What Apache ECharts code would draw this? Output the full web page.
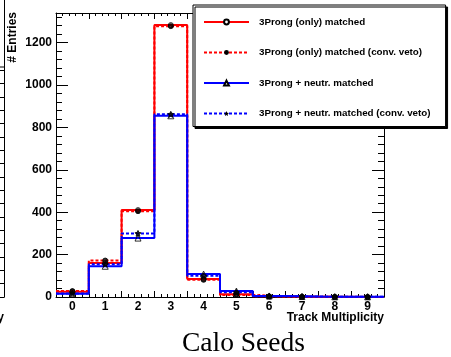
<!DOCTYPE html>
<html>
<head>
<meta charset="utf-8">
<script src="https://cdn.jsdelivr.net/npm/echarts@6/dist/echarts.min.js"></script>
<style>
  html, body { margin: 0; padding: 0; background: #ffffff; }
  #chart { width: 451px; height: 357px; }
</style>
</head>
<body>
<div id="chart"></div>
<script>
// Track multiplicity bins (bin centres)
const multiplicity = [0, 1, 2, 3, 4, 5, 6, 7, 8, 9];

// Entries per bin for each selection
const prongOnly        = [25, 160, 410, 1283, 85, 13, 3, 1, 1, 0];
const prongOnlyVeto    = [28, 172, 405, 1278, 81, 10, 2, 1, 0, 0];
const prongNeutr       = [15, 145, 278, 855, 108, 28, 5, 2, 1, 1];
const prongNeutrVeto   = [17, 155, 300, 862, 100, 22, 4, 2, 1, 1];

const seriesNames = [
  '3Prong (only) matched',
  '3Prong (only) matched (conv. veto)',
  '3Prong + neutr. matched',
  '3Prong + neutr. matched (conv. veto)'
];

// y axis labelled ticks
const yTickLabels = [0, 200, 400, 600, 800, 1000, 1200];

const Y_MAX = 1340;
const X_MIN = multiplicity[0] - 0.5;
const X_MAX = multiplicity[multiplicity.length - 1] + 0.5;

// histogram outline: one point per lower bin edge, closed at the last upper edge
function stepData(values) {
  const pts = values.map((v, i) => [multiplicity[i] - 0.5, v]);
  pts.push([multiplicity[values.length - 1] + 0.5, values[values.length - 1]]);
  return pts;
}
function markerData(values) {
  return values.map((v, i) => [multiplicity[i], v]);
}

// y minor ticks every 40 entries, skipping labelled ones
const yMinor = [];
for (let v = 40; v < Y_MAX; v += 40) { if (v % 200 !== 0) yMinor.push(v); }

const STAR = 'path://M0,-10 L2.94,-4.05 9.51,-3.09 4.76,1.55 5.88,8.09 0,5 -5.88,8.09 -4.76,1.55 -9.51,-3.09 -2.94,-4.05 Z';

const styles = [
  { color: '#ff0000', type: 'solid',  symbol: 'emptyCircle',   scatterSymbol: 'circle',   size: 5, fill: 'rgba(0,0,0,0)' },
  { color: '#ff0000', type: [3, 2],   symbol: 'circle',        scatterSymbol: 'circle',   size: 5, fill: '#000000' },
  { color: '#0000ff', type: 'solid',  symbol: 'emptyTriangle', scatterSymbol: 'triangle', size: 6, fill: 'rgba(0,0,0,0)' },
  { color: '#0000ff', type: [3, 2],   symbol: STAR,            scatterSymbol: STAR,       size: 6, fill: '#000000' }
];
const allValues = [prongOnly, prongOnlyVeto, prongNeutr, prongNeutrVeto];

const axisFont = { color: '#000', fontFamily: 'Liberation Sans', fontWeight: 'bold', fontSize: 12 };
const black = { color: '#000', width: 1 };

const series = [];
allValues.forEach((vals, i) => {
  const s = styles[i];
  series.push({
    name: seriesNames[i],
    type: 'line',
    step: 'end',
    xAxisIndex: 0,
    yAxisIndex: 0,
    data: stepData(vals),
    symbol: s.symbol,
    showSymbol: false,
    silent: true,
    animation: false,
    z: 2 + i,
    lineStyle: { color: s.color, width: 2, type: s.type },
    itemStyle: { color: s.color }
  });
});
allValues.forEach((vals, i) => {
  const s = styles[i];
  series.push({
    name: 'markers ' + i,
    type: 'scatter',
    xAxisIndex: 0,
    yAxisIndex: 0,
    data: markerData(vals),
    symbol: s.scatterSymbol,
    symbolSize: s.size,
    silent: true,
    animation: false,
    z: 10,
    itemStyle: { color: s.fill, borderColor: '#000', borderWidth: 1 }
  });
});

const nameStyle = { ...axisFont, align: 'right', verticalAlign: 'top', padding: [15, 0, 0, 0] };

// plot frame geometry, shared by the main grid and its minor-tick overlay
const frame = { left: 56, top: 13, right: 67, bottom: 60, outerBoundsMode: 'none' };

function hiddenX(gridIndex) {
  return {
    gridIndex, type: 'value', min: X_MIN, max: X_MAX, show: false
  };
}

const chart = echarts.init(document.getElementById('chart'), null, { renderer: 'canvas' });
chart.setOption({
  animation: false,
  backgroundColor: '#ffffff',
  title: {
    text: 'Calo Seeds',
    left: 182,
    top: 330,
    padding: 0,
    textStyle: { fontFamily: 'Liberation Serif', fontWeight: 'normal', fontSize: 27.5, color: '#000' }
  },
  grid: [
    { ...frame },
    { left: -330, top: 13, width: 334, bottom: 60, outerBoundsMode: 'none' },
    { ...frame }
  ],
  legend: {
    orient: 'vertical',
    left: 193,
    top: 5,
    padding: [11, 15, 7, 10],
    itemWidth: 45,
    itemHeight: 6,
    itemGap: 18.5,
    backgroundColor: '#ffffff',
    borderColor: '#000',
    borderWidth: 1,
    borderRadius: 0,
    shadowColor: '#000',
    shadowBlur: 0,
    shadowOffsetX: 2,
    shadowOffsetY: 2,
    selectedMode: false,
    textStyle: { fontFamily: 'Liberation Sans', fontWeight: 'bold', fontSize: 9.8, color: '#000', lineHeight: 12, padding: [0, 0, 0, 5] },
    data: seriesNames.map((n) => ({
      name: n,
      itemStyle: { color: '#000', borderColor: '#000', borderWidth: 0 }
    }))
  },
  graphic: [
    {
      type: 'text',
      x: 13,
      y: 12,
      rotation: Math.PI / 2,
      style: { text: '# Entries', align: 'right', verticalAlign: 'middle', fill: '#000', font: 'bold 12px "Liberation Sans"' }
    },
    {
      type: 'rect',
      shape: { x: -100, y: -10, width: 104.5, height: 77 },
      style: { fill: '#fff', stroke: '#000', lineWidth: 1 },
      z: 100
    }
  ],
  xAxis: [
    {
      gridIndex: 0, type: 'value', position: 'bottom',
      min: X_MIN, max: X_MAX, interval: 1,
      axisLine: { show: true, onZero: false, lineStyle: black },
      axisTick: { show: true, inside: true, length: 6, lineStyle: black },
      minorTick: { show: true, splitNumber: 5, length: 3, lineStyle: black },
      splitLine: { show: false },
      axisLabel: { customValues: multiplicity, margin: 4, ...axisFont },
      name: 'Track Multiplicity',
      nameLocation: 'end',
      nameGap: 0,
      nameMoveOverlap: false,
      nameTextStyle: nameStyle
    },
    {
      gridIndex: 0, type: 'value', position: 'top',
      min: X_MIN, max: X_MAX, interval: 1,
      axisLine: { show: true, onZero: false, lineStyle: black },
      axisTick: { show: true, inside: true, length: 6, lineStyle: black },
      minorTick: { show: true, splitNumber: 5, length: 3, lineStyle: black },
      splitLine: { show: false },
      axisLabel: { show: false }
    },
    {
      gridIndex: 1, type: 'value', position: 'bottom',
      min: X_MIN, max: X_MAX,
      axisLine: { show: true, onZero: false, lineStyle: black },
      axisTick: { show: false },
      splitLine: { show: false },
      axisLabel: { show: false },
      name: 'Track Multiplicity',
      nameLocation: 'end',
      nameGap: 0,
      nameMoveOverlap: false,
      nameTextStyle: nameStyle
    },
    hiddenX(2)
  ],
  yAxis: [
    {
      gridIndex: 0, type: 'value', position: 'left',
      min: 0, max: Y_MAX,
      axisLine: { show: true, onZero: false, lineStyle: black },
      axisTick: { show: true, inside: true, length: 12, customValues: yTickLabels, lineStyle: black },
      splitLine: { show: false },
      axisLabel: { customValues: yTickLabels, margin: 4, formatter: v => String(v), ...axisFont }
    },
    {
      gridIndex: 0, type: 'value', position: 'right',
      min: 0, max: Y_MAX,
      axisLine: { show: true, onZero: false, lineStyle: black },
      axisTick: { show: true, inside: true, length: 12, customValues: yTickLabels, lineStyle: black },
      splitLine: { show: false },
      axisLabel: { show: false }
    },
    {
      gridIndex: 2, type: 'value', position: 'left',
      min: 0, max: Y_MAX,
      axisLine: { show: false, onZero: false },
      axisTick: { show: true, inside: true, length: 6, customValues: yMinor, lineStyle: black },
      splitLine: { show: false },
      axisLabel: { show: false }
    },
    {
      gridIndex: 2, type: 'value', position: 'right',
      min: 0, max: Y_MAX,
      axisLine: { show: false, onZero: false },
      axisTick: { show: true, inside: true, length: 6, customValues: yMinor, lineStyle: black },
      splitLine: { show: false },
      axisLabel: { show: false }
    },
    {
      gridIndex: 1, type: 'value', position: 'right',
      min: 0, max: 2130, interval: 100,
      axisLine: { show: true, onZero: false, lineStyle: black },
      axisTick: { show: true, inside: true, length: 6, lineStyle: black },
      minorTick: { show: false },
      splitLine: { show: false },
      axisLabel: { show: false }
    }
  ],
  series: series
});
</script>
</body>
</html>
